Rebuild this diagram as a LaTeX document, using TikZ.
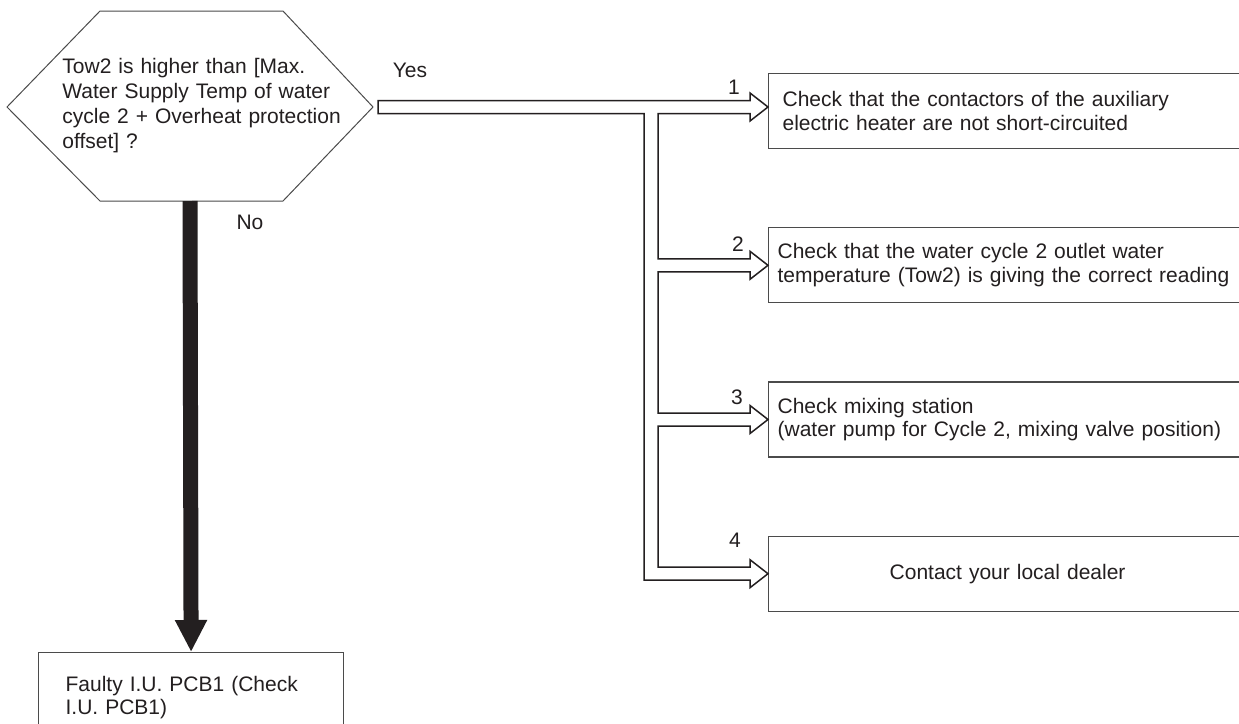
\documentclass[tikz,border=0pt]{standalone}
\usepackage{fontspec}
\setmainfont{Liberation Sans}
\usetikzlibrary{arrows.meta,positioning,calc}
\definecolor{fcline}{RGB}{35,31,32}
\definecolor{fcbox}{RGB}{75,75,75}
\tikzset{
  qtext/.style={align=left,text width=150pt,inner sep=0pt,anchor=west,
                font=\fontsize{10.5}{12.5}\selectfont,text=fcline},
  qline/.style={draw=fcbox,line width=0.5pt,line join=miter},
  chkbox/.style={draw=fcbox,line width=0.6pt,anchor=north west,align=left,
                 text width=240pt,inner xsep=4.5pt,inner ysep=0pt,minimum height=37.5pt,
                 font=\fontsize{10.5}{11.75}\selectfont,text=fcline},
  lbl/.style={font=\fontsize{10.5}{12}\selectfont,text=fcline,inner sep=0pt},
  hollow/.style={draw=fcline,line width=0.75pt,fill=white,line join=miter},
  noflow/.style={draw=fcline,line width=7.5pt,-{Triangle[width=15pt,length=16pt]}},
}
\begin{document}
\begin{tikzpicture}[x=0.5pt,y=-0.5pt,node distance=39pt]
\fill[white] (0,0) rectangle (1239,724);
\useasboundingbox (0,0) rectangle (1239,724);
% --- decision ---
\coordinate (qW) at (7,107);
\coordinate (qE) at (373,107);
\coordinate (qS) at (190,201);
\draw[qline] (qW) -- (100,11) -- (283,11) -- (qE) -- (283,201) -- (100,201) -- cycle;
\node[qtext] (q) at (62,106)
 {Tow2 is higher than [Max.\\
  Water Supply Temp of water\\
  cycle 2 + Overheat protection\\
  offset] ?};
% --- checks ---
\node[chkbox] (a1) at (768,73)
 {\hspace*{2.5pt}Check that the contactors of the auxiliary\\
  \hspace*{2.5pt}electric heater are not short-circuited};
\node[chkbox,below=of a1.south west,anchor=north west] (a2)
 {Check that the water cycle 2 outlet water\\
  temperature (Tow2) is giving the correct reading};
\node[chkbox,below=of a2.south west,anchor=north west] (a3)
 {Check mixing station\\
  (water pump for Cycle 2, mixing valve position)};
\node[chkbox,align=center,text width=230pt,below=of a3.south west,anchor=north west] (a4)
 {Contact your local dealer};
\node[chkbox,text width=125.5pt,inner xsep=13.5pt,minimum height=45pt] (f) at (38,652)
 {Faulty I.U. PCB1 (Check\\
  I.U. PCB1)};
% branch tips and trunk
\coordinate (t1) at (a1.west |- qE);
\coordinate (t2) at (a2.west);
\coordinate (t3) at (a3.west);
\coordinate (t4) at (a4.west);
\coordinate (trk) at (651,0);
% Yes: hollow branching arrow
\draw[hollow]
  ($(qE)+(5,-6.5)$) -- ($(t1)+(-18,-6.5)$) -- ($(t1)+(-18,-14)$) -- (t1)
  -- ($(t1)+(-18,14)$) -- ($(t1)+(-18,6.5)$) -- ($(trk|-t1)+(7,6.5)$)
  -- ($(trk|-t2)+(7,-6.5)$) -- ($(t2)+(-18,-6.5)$) -- ($(t2)+(-18,-14)$) -- (t2)
  -- ($(t2)+(-18,14)$) -- ($(t2)+(-18,6.5)$) -- ($(trk|-t2)+(7,6.5)$)
  -- ($(trk|-t3)+(7,-6.5)$) -- ($(t3)+(-18,-6.5)$) -- ($(t3)+(-18,-14)$) -- (t3)
  -- ($(t3)+(-18,14)$) -- ($(t3)+(-18,6.5)$) -- ($(trk|-t3)+(7,6.5)$)
  -- ($(trk|-t4)+(7,-6.5)$) -- ($(t4)+(-18,-6.5)$) -- ($(t4)+(-18,-14)$) -- (t4)
  -- ($(t4)+(-18,14)$) -- ($(t4)+(-18,6.5)$) -- ($(trk|-t4)+(-7,6.5)$)
  -- ($(trk|-t1)+(-7,6.5)$) -- ($(qE)+(5,6.5)$) -- cycle;
% No: solid arrow
\draw[noflow] (qS) -- (f.north);
% labels
\node[lbl] (yes) at (410,70) {Yes};
\node[lbl] (no) at (250,222) {No};
\node[lbl] (n1) at ($(t1)+(-34,-20)$) {1};
\node[lbl] (n2) at ($(t2)+(-30,-21)$) {2};
\node[lbl] (n3) at ($(t3)+(-31,-22)$) {3};
\node[lbl] (n4) at ($(t4)+(-33,-33)$) {4};
\end{tikzpicture}
\end{document}
